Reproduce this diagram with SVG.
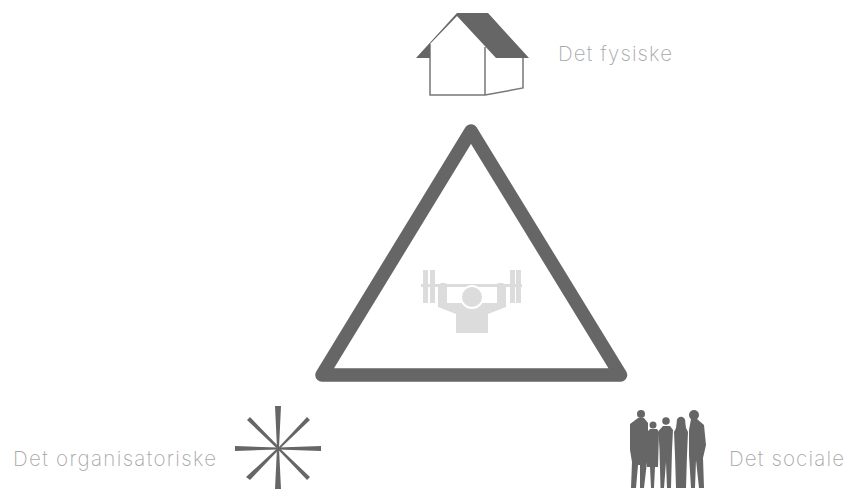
<svg xmlns="http://www.w3.org/2000/svg" width="847" height="489" viewBox="0 0 847 489">
<style>
.lbl{font-family:"Inter","Liberation Sans",sans-serif;font-weight:200;font-size:20.500px;fill:#a8a8a8}
.dk{fill:#666}
.lt{fill:#dcdcdc}
</style>
<rect width="847" height="489" fill="#fff"/>
<g id="triangle"><path d="M471 131L620.500 375H322Z" fill="none" stroke="#666" stroke-width="13.500" stroke-linejoin="round"/></g>
<g id="lifter">
<path class="lt" d="M421 284H522V287H421Z"/>
<path class="lt" d="M423 270h5v33h-5ZM430 270h5v33h-5ZM510 270h5v33h-5ZM516 270h5v33h-5Z"/>
<path class="lt" d="M438 285Q442 281 447 284V303H497V284Q501 281 506 285V307L488 314V333H456V314L438 307Z"/>
<circle cx="472" cy="297" r="11" fill="#dcdcdc" stroke="#fff" stroke-width="2"/>
</g>
<g id="house">
<path fill="none" stroke="#777" stroke-width="1.500" d="M430 44V95H485V47M485 95L523 88V58"/>
<path class="dk" d="M457 13H488L529 58H496L457 16L430 44V58H416Z"/>
<text class="lbl" x="558" y="61" textLength="114" lengthAdjust="spacing">Det fysiske</text>
</g>
<g id="organisational">
<path class="dk" d="M275 406H281L279 448L281 489H275L277 448Z"/>
<path class="dk" d="M235 446L278 447.500L321 446V451L278 449.500L235 451Z"/>
<path class="dk" d="M247 420L250 417L279 447L307 417L310 420L280 448.500L310 477L307 480L278.500 450L250 480L246 477L277 448.500Z"/>
<text class="lbl" x="13" y="466" textLength="203" lengthAdjust="spacing">Det organisatoriske</text>
</g>
<g id="social">
<circle class="dk" cx="641" cy="414" r="4"/>
<path class="dk" d="M638 418H644L648 423V445L647 462L644 488H640L640 465H638L636 488H631L632 462L630 450V424Z"/>
<circle class="dk" cx="653" cy="425" r="3.500"/>
<path class="dk" d="M650 429H657L659 432L658 467H655L654 488H651L650 467H647L647 432Z"/>
<circle class="dk" cx="666" cy="421" r="3.800"/>
<path class="dk" d="M663 426H670L673 430L672 450L671 488H667L666 462L664 488H660.500L659.500 450L658.500 431Z"/>
<circle class="dk" cx="681" cy="421" r="4.200"/>
<path class="dk" d="M677 420L685 420L686 428L688 432L687 455L686 488H676L675 455L674 432L676 428Z"/>
<circle class="dk" cx="694" cy="415" r="5"/>
<path class="dk" d="M691 419H697L704 425L706 445L703 458L704 488H699L696 460L695 488H691L689 455L689 430Z"/>
<text class="lbl" x="729" y="466" textLength="115" lengthAdjust="spacing">Det sociale</text>
</g>
</svg>
